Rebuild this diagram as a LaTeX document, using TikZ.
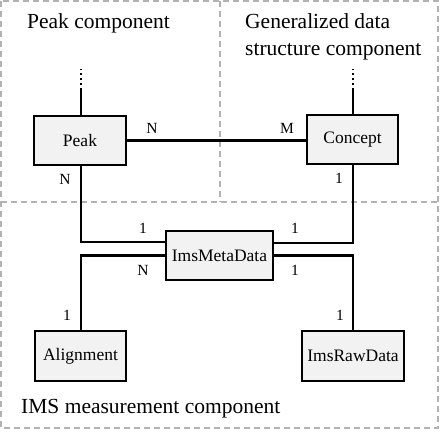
\documentclass[tikz,border=0pt]{standalone}
\usepackage{fontspec}
\setmainfont{Liberation Serif}
\usetikzlibrary{calc}
\begin{document}
\begin{tikzpicture}[x=1pt,y=-1pt,
  entity/.style={draw=black, line width=2.2pt, fill=gray!10, minimum width=#1, minimum height=49pt, inner sep=0pt, font=\fontsize{17.5}{20}\selectfont},
  entity/.default=92pt,
  link/.style={line width=2.2pt, black},
  dotlink/.style={line width=2.2pt, black, dash pattern=on 2.5pt off 2.5pt},
  card/.style={inner sep=0pt, font=\fontsize{15.5}{17}\selectfont},
  region/.style={draw=gray!60, line width=1.4pt, dash pattern=on 6pt off 4pt},
  title/.style={inner sep=0pt, font=\fontsize{21.5}{27}\selectfont, align=left}]
\useasboundingbox (0,0) rectangle (442,439);
% regions
\draw[region] (1,1) rectangle (438,428);
\draw[region] (220,1) -- (220,202);
\draw[region] (1,202) -- (438,202);
\node[title, anchor=base west] (tpeak) at (27,28) {Peak component};
\node[title, anchor=base west] (tgen) at (245,55) {Generalized data\\structure component};
\node[title, anchor=base west] (tims) at (21,413) {IMS measurement component};
% entities
\node[entity=92pt] (peak) at (80,140.5) {Peak};
\node[entity=91pt] (concept) at (352.5,139.5) {Concept};
\node[entity=107pt, minimum height=49pt] (meta) at (219.5,255.5) {ImsMetaData};
\node[entity=91pt, minimum height=50pt] (align) at (80.5,356) {Alignment};
\node[entity=102pt, minimum height=50pt] (raw) at (353,356) {ImsRawData};
% stubs
\coordinate (pdot) at (81,69);
\coordinate (cdot) at (353,69);
\coordinate (pmid) at (81,90);
\coordinate (cmid) at (353,90);
\draw[link] (peak.north -| pdot) -- (pmid);
\draw[dotlink] (pmid) -- (pdot);
\draw[link] (concept.north -| cdot) -- (cmid);
\draw[dotlink] (cmid) -- (cdot);
% connectors
\draw[link] (peak.east) -- (peak.east -| concept.west);
\draw[link] (peak.south -| pdot) |- ($(meta.west)+(0,-13.5)$);
\draw[link] (concept.south -| cdot) |- ($(meta.east)+(0,-12.5)$);
\draw[link] (meta.west) -| (align.north -| pdot);
\draw[link] (meta.east) -| (raw.north -| cdot);
% cardinalities
\node[card] (c1) at (152,128) {N};
\node[card] (c2) at (287,128) {M};
\node[card] (c3) at (65,179) {N};
\node[card] (c4) at (339,178) {1};
\node[card] (c5) at (143,228) {1};
\node[card] (c6) at (295,228) {1};
\node[card] (c7) at (143,270) {N};
\node[card] (c8) at (295,270) {1};
\node[card] (c9) at (67,315) {1};
\node[card] (c10) at (340,315) {1};
\end{tikzpicture}
\end{document}
